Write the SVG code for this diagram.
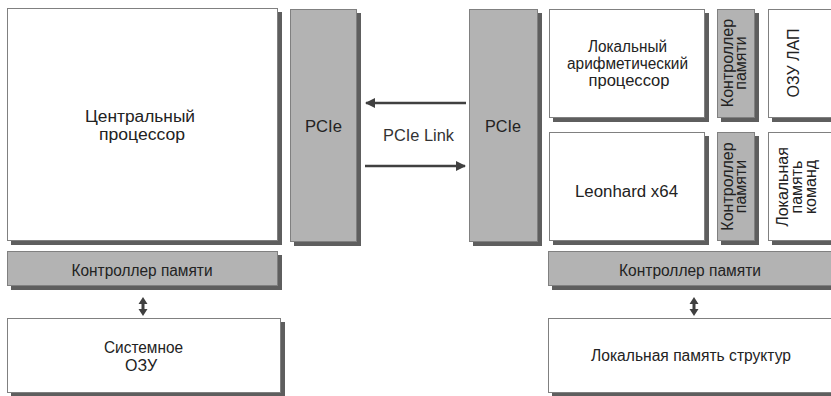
<svg xmlns="http://www.w3.org/2000/svg" width="831" height="396" viewBox="0 0 831 396">
<style>
.sh{fill:#5e5e5e}
.w{fill:#ffffff;stroke:#808080;stroke-width:1}
.g{fill:#b3b3b3;stroke:#808080;stroke-width:1}
text{font-family:"Liberation Sans",Arial,sans-serif;font-size:16px;fill:#222;text-anchor:middle}
.v{font-size:16px}
.ln{stroke:#404040;stroke-width:2.5;fill:none}
.ah{fill:#404040}
</style>
<defs>
<marker id="arr" viewBox="0 0 10 10" refX="9" refY="5" markerWidth="4" markerHeight="4" orient="auto" markerUnits="strokeWidth">
<path d="M0,0 L10,5 L0,10 Z" class="ah"/>
</marker>
</defs>
<rect width="831" height="396" fill="#ffffff"/>

<g id="cpu">
<rect class="sh" x="11" y="12" width="271" height="233"/>
<rect class="w" x="7.5" y="8.5" width="270" height="232"/>
<text x="140" y="122" textLength="110" lengthAdjust="spacingAndGlyphs">Центральный</text>
<text x="142" y="140" textLength="86" lengthAdjust="spacingAndGlyphs">процессор</text>
</g>

<g id="mc-left">
<rect class="sh" x="11" y="255" width="271" height="35"/>
<rect class="g" x="7.5" y="251.5" width="270" height="34"/>
<text x="142" y="276" textLength="141" lengthAdjust="spacingAndGlyphs">Контроллер памяти</text>
</g>

<g id="sysram">
<rect class="sh" x="11" y="322" width="274" height="75"/>
<rect class="w" x="7.5" y="318.5" width="273" height="74"/>
<text x="143.5" y="353" textLength="79" lengthAdjust="spacingAndGlyphs">Системное</text>
<text x="141" y="371">ОЗУ</text>
</g>

<g id="pcie-left">
<rect class="sh" x="294" y="13" width="67" height="233"/>
<rect class="g" x="290.5" y="9.5" width="66" height="232"/>
<text x="323.5" y="132" textLength="37" lengthAdjust="spacingAndGlyphs">PCIe</text>
</g>

<g id="pcie-right">
<rect class="sh" x="473" y="13" width="69" height="233"/>
<rect class="g" x="469.5" y="9.5" width="68" height="232"/>
<text x="503" y="132" textLength="36" lengthAdjust="spacingAndGlyphs">PCIe</text>
</g>

<g id="alu">
<rect class="sh" x="553" y="13" width="156" height="109"/>
<rect class="w" x="549.5" y="9.5" width="155" height="108"/>
<text x="627.5" y="52" textLength="79" lengthAdjust="spacingAndGlyphs">Локальный</text>
<text x="627.5" y="69" textLength="121" lengthAdjust="spacingAndGlyphs">арифметический</text>
<text x="629" y="86" textLength="81" lengthAdjust="spacingAndGlyphs">процессор</text>
</g>

<g id="leonhard">
<rect class="sh" x="553" y="136" width="156" height="109"/>
<rect class="w" x="549.5" y="132.5" width="155" height="108"/>
<text x="626.5" y="197" textLength="103" lengthAdjust="spacingAndGlyphs">Leonhard x64</text>
</g>

<g id="mc-alu">
<rect class="sh" x="721" y="13" width="38" height="109"/>
<rect class="g" x="717.5" y="9.5" width="37" height="108"/>
<text class="v" transform="translate(733,63) rotate(-90)">Контроллер</text>
<text class="v" transform="translate(746,63) rotate(-90)">памяти</text>
</g>

<g id="mc-leonhard">
<rect class="sh" x="721" y="136" width="38" height="109"/>
<rect class="g" x="717.5" y="132.5" width="37" height="108"/>
<text class="v" transform="translate(733,186.5) rotate(-90)">Контроллер</text>
<text class="v" transform="translate(746,186.5) rotate(-90)">памяти</text>
</g>

<g id="ozu-lap">
<rect class="sh" x="772" y="13" width="80" height="109"/>
<rect class="w" x="768.5" y="9.5" width="80" height="108"/>
<text class="v" transform="translate(799,63) rotate(-90)">ОЗУ ЛАП</text>
</g>

<g id="instr-mem">
<rect class="sh" x="772" y="136" width="80" height="109"/>
<rect class="w" x="768.5" y="132.5" width="80" height="108"/>
<text class="v" transform="translate(788,187) rotate(-90)">Локальная</text>
<text class="v" transform="translate(802,187) rotate(-90)">память</text>
<text class="v" transform="translate(816,187) rotate(-90)">команд</text>
</g>

<g id="mc-right">
<rect class="sh" x="552" y="255" width="300" height="35"/>
<rect class="g" x="548.5" y="251.5" width="300" height="34"/>
<text x="690" y="276" textLength="142" lengthAdjust="spacingAndGlyphs">Контроллер памяти</text>
</g>

<g id="struct-mem">
<rect class="sh" x="552" y="322" width="300" height="75"/>
<rect class="w" x="548.5" y="318.5" width="300" height="74"/>
<text x="691" y="361" textLength="200" lengthAdjust="spacingAndGlyphs">Локальная память структур</text>
</g>

<g id="connectors">
<line class="ln" x1="466" y1="103" x2="366" y2="103" marker-end="url(#arr)"/>
<line class="ln" x1="365" y1="166" x2="465" y2="166" marker-end="url(#arr)"/>
<text x="418.5" y="141" textLength="71" lengthAdjust="spacingAndGlyphs" style="fill:#333">PCIe Link</text>
<path class="ah" d="M143,297 L147.5,304 L144.5,304 L144.5,309 L147.5,309 L143,316 L138.5,309 L141.5,309 L141.5,304 L138.5,304 Z"/>
<path class="ah" d="M694,297 L698.5,304 L695.5,304 L695.5,309 L698.5,309 L694,316 L689.5,309 L692.5,309 L692.5,304 L689.5,304 Z"/>
</g>
</svg>
